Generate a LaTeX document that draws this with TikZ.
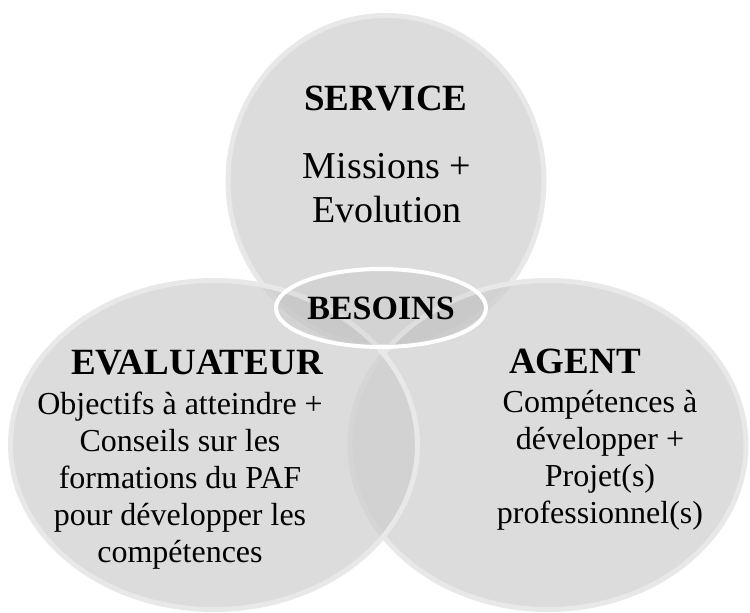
\documentclass[tikz,border=0pt]{standalone}
\usepackage{fontspec}
\setmainfont{Liberation Serif}
\usetikzlibrary{shapes.geometric}
\definecolor{couleurcercle}{HTML}{CDCDCD}
\definecolor{couleurbord}{HTML}{E8E8E8}
\definecolor{couleurtexte}{HTML}{000000}
\definecolor{couleurbesoins}{HTML}{FFFFFF}
\tikzset{
		cercle/.style={ellipse, draw=couleurbord, line width=5pt, fill=couleurcercle, fill opacity=0.7, inner sep=0pt},
		titre/.style={font=\fontsize{37}{40}\selectfont\bfseries, text=couleurtexte, anchor=base, inner sep=0pt},
		texte/.style={font=\fontsize{32}{37}\selectfont, text=couleurtexte, align=center, anchor=base, inner sep=0pt},
		besoins/.style={ellipse, draw=couleurbesoins, line width=4pt, fill=black, fill opacity=0.04, text opacity=1, text=couleurtexte, minimum width=210pt, minimum height=78pt, inner sep=0pt, font=\fontsize{34}{36}\selectfont\bfseries}
	}

\begin{document}
\begin{tikzpicture}[x=1pt, y=-1pt]
		\useasboundingbox (0,0) rectangle (750,613);
		% cercles
		\node[cercle, minimum width=316pt, minimum height=331pt](service) at (386,181) {};
		\node[cercle, minimum width=396pt, minimum height=329pt](agent) at (548,445) {};
		\node[cercle, minimum width=407pt, minimum height=329pt](evaluateur) at (214,445) {};
		% service (base = derniere ligne)
		\node[titre](titreserv) at (386,110) {SERVICE};
		\node[texte, font=\fontsize{38}{44}\selectfont](textserv) at (387,222) {Missions +\\Evolution};
		% evaluateur
		\node[titre](titreeval) at (197,374) {EVALUATEUR};
		\node[texte](texteval) at (180,562) {Objectifs à atteindre +\\Conseils sur les\\formations du PAF\\pour développer les\\compétences};
		% agent
		\node[titre](titreagen) at (575,373) {AGENT};
		\node[texte](textagen) at (600,523) {Compétences à\\développer +\\Projet(s)\\professionnel(s)};
		% besoins
		\node[besoins](besoins) at (381,308) {BESOINS};
	\end{tikzpicture}
\end{document}
